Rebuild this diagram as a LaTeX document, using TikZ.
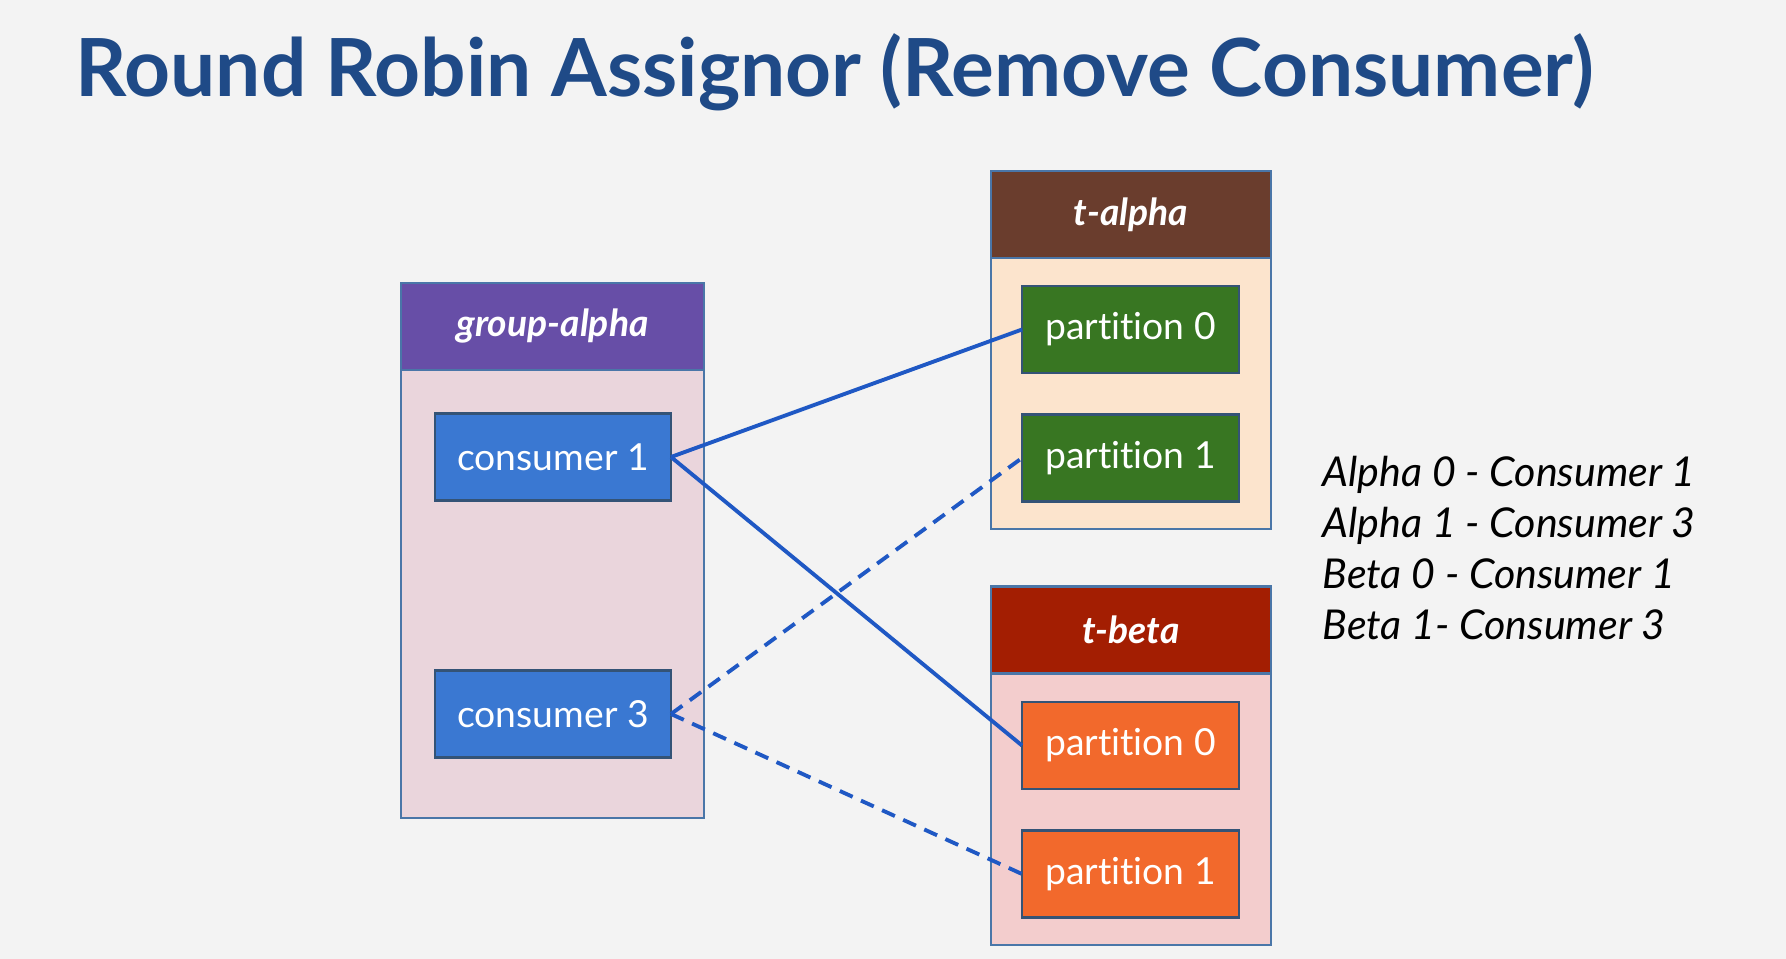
\documentclass[tikz,border=0pt]{standalone}
\usepackage{fontspec}
\setmainfont{Lato}[Ligatures={NoCommon}]
\usepackage{xcolor}
\definecolor{mybg}{HTML}{F3F3F3}
\definecolor{mytitle}{HTML}{1F4A87}
\definecolor{myframe}{HTML}{4A76A8}
\definecolor{mypurple}{HTML}{674EA7}
\definecolor{mypink}{HTML}{EAD5DC}
\definecolor{mybrown}{HTML}{6A3D2D}
\definecolor{mypeach}{HTML}{FCE4CD}
\definecolor{mydarkred}{HTML}{A31E02}
\definecolor{myrose}{HTML}{F3CDCD}
\definecolor{myblue}{HTML}{3A78D2}
\definecolor{mygreen}{HTML}{387622}
\definecolor{myorange}{HTML}{F2692C}
\definecolor{myline}{HTML}{1F58C4}
\tikzset{
  box/.style={draw=myframe,line width=0.6pt,inner sep=0,outer sep=0},
  group body/.style={box,fill=mypink,minimum width=3.03cm,minimum height=5.35cm},
  topic body/.style={box,minimum width=2.80cm,minimum height=3.58cm},
  head/.style={box,text=white,font=\fontsize{10.6}{12}\selectfont\bfseries\itshape,minimum height=0.87cm},
  item/.style={box,draw=myframe!70!black,text=white,font=\fontsize{10.6}{12}\selectfont,minimum height=0.87cm},
  consumer/.style={item,fill=myblue,minimum width=2.36cm},
  part alpha/.style={item,fill=mygreen,minimum width=2.17cm},
  part beta/.style={item,fill=myorange,minimum width=2.17cm},
  legend/.style={anchor=base west,inner sep=0,font=\fontsize{11.7}{14}\selectfont\itshape},
  assign/.style={line width=1.1pt,myline},
  assign new/.style={assign,dash pattern=on 4pt off 2.6pt}
}
\begin{document}
\begin{tikzpicture}
  \fill[mybg] (0,0) rectangle (17.86,-9.59);
  \useasboundingbox (0,0) rectangle (17.86,-9.59);

  \node[anchor=base west,inner sep=0,text=mytitle,font=\fontsize{22.8}{26}\selectfont\bfseries] (title) at (0.75,-0.97) {Round Robin Assignor (Remove Consumer)};

  % consumer group
  \node[group body] (grp) at (5.525,-5.505) {};
  \node[head,fill=mypurple,minimum width=3.03cm] (grphead) at (5.525,-3.265) {group-alpha};
  \node[consumer] (c1) at (5.53,-4.57) {consumer 1};
  \node[consumer] (c3) at (5.53,-7.14) {consumer 3};

  % topic t-alpha
  \node[topic body,fill=mypeach] (ta) at (11.31,-3.50) {};
  \node[head,fill=mybrown,minimum width=2.80cm] (tahead) at (11.31,-2.145) {t-alpha};
  \node[part alpha] (ta0) at (11.305,-3.295) {partition 0};
  \node[part alpha] (ta1) at (11.305,-4.58) {partition 1};

  % topic t-beta
  \node[topic body,fill=myrose] (tb) at (11.31,-7.66) {};
  \node[head,fill=mydarkred,minimum width=2.80cm] (tbhead) at (11.31,-6.30) {t-beta};
  \node[part beta] (tb0) at (11.305,-7.455) {partition 0};
  \node[part beta] (tb1) at (11.305,-8.74) {partition 1};

  % assignments
  \draw[assign] (c1.east) -- (ta0.west);
  \draw[assign] (c1.east) -- (tb0.west);
  \draw[assign new] (c3.east) -- (ta1.west);
  \draw[assign new] (c3.east) -- (tb1.west);

  \node[legend] (l1) at (13.22,-4.87) {Alpha 0 - Consumer 1};
  \node[legend] (l2) at (13.22,-5.38) {Alpha 1 - Consumer 3};
  \node[legend] (l3) at (13.22,-5.89) {Beta 0 - Consumer 1};
  \node[legend] (l4) at (13.22,-6.40) {Beta 1- Consumer 3};
\end{tikzpicture}
\end{document}
